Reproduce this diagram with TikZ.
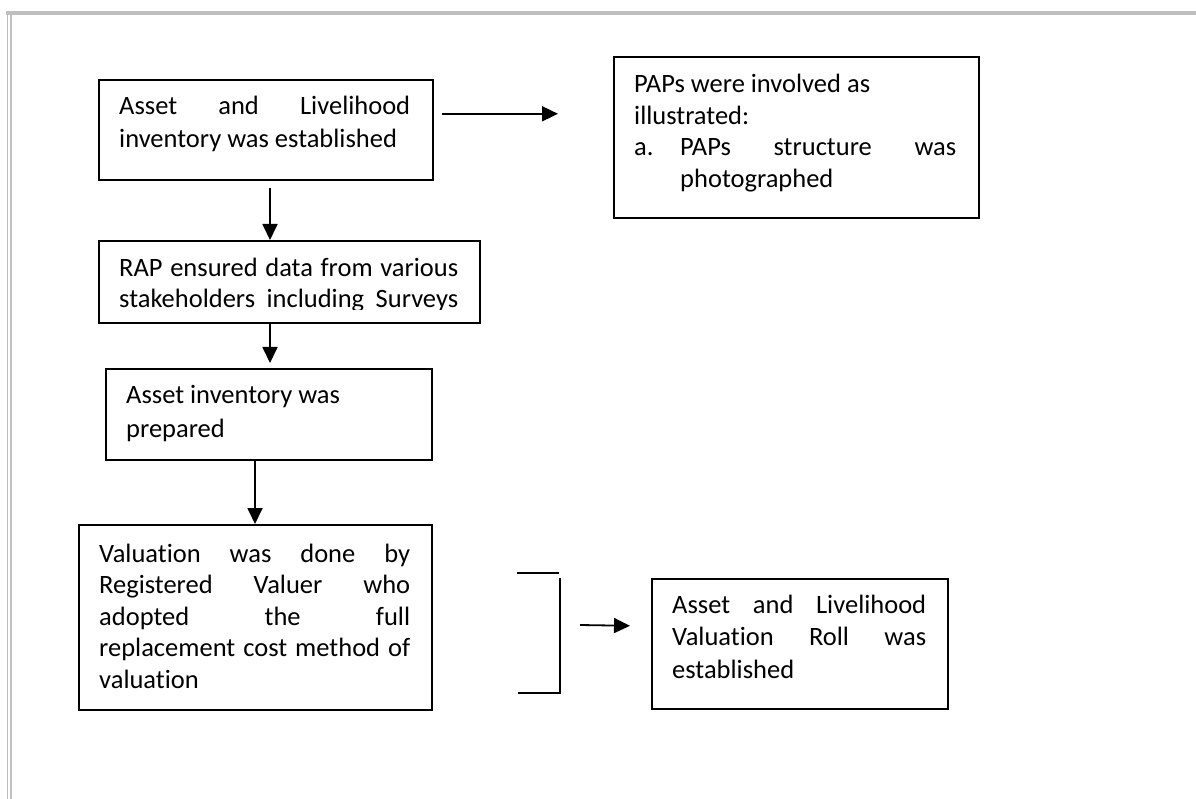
\documentclass[tikz,border=0pt]{standalone}
\usepackage{fontspec}
\setmainfont{Carlito}[Ligatures={NoCommon}]
\usetikzlibrary{arrows.meta}
\begin{document}
\begin{tikzpicture}[x=1pt,y=-1pt,
  box/.style={draw, line width=1.6pt, inner sep=0pt, anchor=north west},
  ln/.style={anchor=base west, inner sep=0pt, font=\fontsize{26.5}{32}\selectfont},
  conn/.style={line width=1.8pt, -{Triangle[length=16pt,width=15pt]}},
  brk/.style={line width=1.5pt},
  framefill/.style={fill=black!25, draw=none}]
\useasboundingbox (0,0) rectangle (1196,799);
% page frame
\fill[framefill] (6,11) rectangle (1196,15);
\fill[framefill] (6.5,11) rectangle (8.3,799);
\fill[framefill] (9.8,11) rectangle (11.6,799);

% boxes
\node[box, minimum width=334pt, minimum height=100pt] (b1) at (98,79) {};
\node[box, minimum width=381pt, minimum height=82pt] (b2) at (98,240) {};
\node[box, minimum width=326pt, minimum height=91pt] (b3) at (105,368) {};
\node[box, minimum width=353pt, minimum height=185pt] (b4) at (78,524) {};
\node[box, minimum width=365pt, minimum height=161pt] (b5) at (613,56) {};
\node[box, minimum width=296pt, minimum height=130pt] (b6) at (651,578) {};

% texts
\node[ln] (t1a) at (119,115) {\makebox[291pt][s]{Asset and Livelihood}};
\node[ln] (t1b) at (119,148) {inventory was established};

\node[ln] (t2a) at (119,277) {\makebox[339pt][s]{RAP ensured data from various}};
\begin{scope}
  \clip (100,280) rectangle (477,310);
  \node[ln] (t2b) at (119,308) {\makebox[339pt][s]{stakeholders including Surveys}};
\end{scope}

\node[ln] (t3a) at (126,403) {Asset inventory was};
\node[ln] (t3b) at (126,437) {prepared};

\node[ln] (t4a) at (99,562) {\makebox[311pt][s]{Valuation was done by}};
\node[ln] (t4b) at (99,593.5) {\makebox[311pt][s]{Registered Valuer who}};
\node[ln] (t4c) at (99,625) {\makebox[311pt][s]{adopted the full}};
\node[ln] (t4d) at (99,656.5) {\makebox[311pt][s]{replacement cost method of}};
\node[ln] (t4e) at (99,688) {valuation};

\node[ln] (t5a) at (634,93) {PAPs were involved as};
\node[ln] (t5b) at (634,124.5) {illustrated:};
\node[ln] (t5c) at (634,156) {a.};
\node[ln] (t5d) at (680,156) {\makebox[276pt][s]{PAPs structure was}};
\node[ln] (t5e) at (680,187.5) {photographed};

\node[ln] (t6a) at (672,613) {\makebox[254pt][s]{Asset and Livelihood}};
\node[ln] (t6b) at (672,645.5) {\makebox[254pt][s]{Valuation Roll was}};
\node[ln] (t6c) at (672,678) {established};

% connectors
\draw[conn] ([xshift=8pt,yshift=16pt]b1.east) -- ([xshift=-55pt,yshift=23.5pt]b5.west);
\draw[conn] ([xshift=172pt,yshift=-7pt]b1.south west) -- ([xshift=172pt]b2.north west);
\draw[conn] ([xshift=172pt]b2.south west) -- ([xshift=165pt,yshift=5pt]b3.north west);
\draw[conn] ([xshift=150pt]b3.south west) -- ([xshift=177pt]b4.north west);

% bracket
\draw[brk] (517,573) -- (559,573);
\draw[brk] (560,578) -- (560,693) -- (518,693);
\coordinate (br) at (580,625);
\draw[conn] (br) -- ([xshift=-21pt,yshift=18pt]b6.west);
\end{tikzpicture}
\end{document}
